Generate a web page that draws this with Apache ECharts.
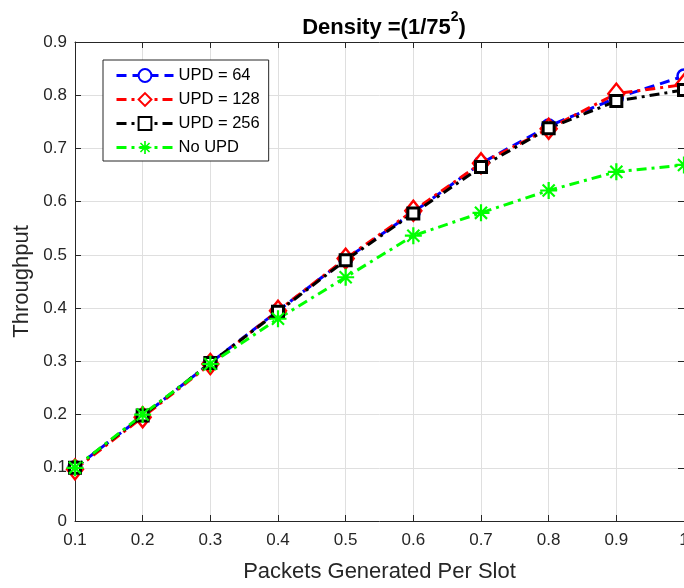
<!DOCTYPE html>
<html><head><meta charset="utf-8">
<script src="https://cdn.jsdelivr.net/npm/echarts@6/dist/echarts.min.js"></script>
<style>html,body{margin:0;padding:0;background:#fff}#c{width:684px;height:588px}</style>
</head><body><div id="c"></div>
<script>
const xValues = [0.1, 0.2, 0.3, 0.4, 0.5, 0.6, 0.7, 0.8, 0.9, 1.0];
const upd64  = [0.100, 0.197, 0.297, 0.395, 0.492, 0.580, 0.672, 0.742, 0.795, 0.836];
const upd128 = [0.097, 0.195, 0.295, 0.395, 0.493, 0.583, 0.672, 0.737, 0.803, 0.820];
const upd256 = [0.100, 0.198, 0.297, 0.393, 0.490, 0.578, 0.665, 0.738, 0.789, 0.810];
const noUpd  = [0.100, 0.200, 0.295, 0.380, 0.458, 0.536, 0.579, 0.621, 0.656, 0.669];
const seriesNames = ['UPD = 64', 'UPD = 128', 'UPD = 256', 'No UPD'];

const FONT = 'Liberation Sans';
const AX = '#262626';
const asterisk = 'path://M-1.3,-10 L1.3,-10 L1.3,10 L-1.3,10 Z M-10,-1.3 L10,-1.3 L10,1.3 L-10,1.3 Z M-6.2,-8 L8,6.2 L6.2,8 L-8,-6.2 Z M-8,6.2 L6.2,-8 L8,-6.2 L-6.2,8 Z';

function pairs(ys){ return xValues.map((x,i)=>[x, ys[i]]); }

const chart = echarts.init(document.getElementById('c'), null, {renderer:'canvas'});
function mk(name, data, color, dash, symbol, size, bw, fillSym){
  return {
    name, type:'line', data: pairs(data), clip:false,
    symbol, symbolSize:size, showAllSymbol:true,
    lineStyle:{color, width:3, type:dash},
    itemStyle:{color: fillSym ? color : '#ffffff', borderColor:color, borderWidth:bw},
    emphasis:{disabled:true}, animation:false
  };
}
const dashed = [10,6];
const dashdot = [10,5,3,5];
const option = {
  animation:false,
  textStyle:{fontFamily:FONT},
  title:{
    text:'{t|Density =(1/75}{s|2}{t|)}',
    left:379, top:5, textAlign:'center',
    textStyle:{rich:{
      t:{fontFamily:FONT, fontWeight:'bold', fontSize:22, color:'#000', padding:[7,0,0,0]},
      s:{fontFamily:FONT, fontWeight:'bold', fontSize:14, color:'#000', verticalAlign:'top'}
    }}
  },
  grid:{left:75, right:0, top:42, bottom:67, containLabel:false, outerBoundsMode:'none'},
  legend:{
    orient:'vertical', left:103, top:60,
    padding:[7,9,5,12], itemGap:7, itemWidth:57, itemHeight:16,
    backgroundColor:'#fff', borderColor:AX, borderWidth:1,
    lineStyle:{width:3},
    textStyle:{fontFamily:FONT, fontSize:16.5, color:'#000'},
    data: seriesNames
  },
  xAxis:[{
    type:'value', min:0.1, max:1, interval:0.1,
    name:'Packets Generated Per Slot', nameLocation:'middle', nameGap:40,
    nameTextStyle:{fontFamily:FONT, fontSize:22, color:AX},
    axisLine:{onZero:false, lineStyle:{color:AX, width:1}},
    axisTick:{inside:true, length:6, lineStyle:{color:AX}},
    axisLabel:{fontFamily:FONT, fontSize:17, color:AX, margin:11,
      formatter:v=> Math.abs(v-1)<1e-9 ? '1' : v.toFixed(1)},
    splitLine:{show:true, lineStyle:{color:'#dfdfdf', width:1}}
  },{
    type:'value', position:'top', min:0.1, max:1, interval:0.1,
    axisLine:{onZero:false, lineStyle:{color:AX, width:1}},
    axisTick:{inside:true, length:6, lineStyle:{color:AX}},
    axisLabel:{show:false}, splitLine:{show:false}
  }],
  yAxis:[{
    type:'value', min:0, max:0.9, interval:0.1,
    name:'Throughput', nameLocation:'middle', nameGap:40, nameRotate:90,
    nameTextStyle:{fontFamily:FONT, fontSize:22, color:AX},
    axisLine:{show:true, onZero:false, lineStyle:{color:AX, width:1}},
    axisTick:{show:true, inside:true, length:6, lineStyle:{color:AX}},
    axisLabel:{fontFamily:FONT, fontSize:17, color:AX, margin:8,
      formatter:v=> Math.abs(v)<1e-9 ? '0' : v.toFixed(1)},
    splitLine:{show:true, lineStyle:{color:'#dfdfdf', width:1}}
  },{
    type:'value', position:'right', min:0, max:0.9, interval:0.1,
    axisLine:{show:true, onZero:false, lineStyle:{color:AX, width:1}},
    axisTick:{show:true, inside:true, length:6, lineStyle:{color:AX}},
    axisLabel:{show:false}, splitLine:{show:false}
  }],
  series:[
    mk(seriesNames[0], upd64,  '#0000ff', dashed,  'circle', 13, 2.5, false),
    mk(seriesNames[1], upd128, '#ff0000', dashdot, 'diamond', [16,20], 2.5, false),
    mk(seriesNames[2], upd256, '#000000', dashdot, 'rect', 11, 3, false),
    mk(seriesNames[3], noUpd,  '#00ff00', dashdot, asterisk, 17, 0, true)
  ]
};
chart.setOption(option);
</script></body></html>
